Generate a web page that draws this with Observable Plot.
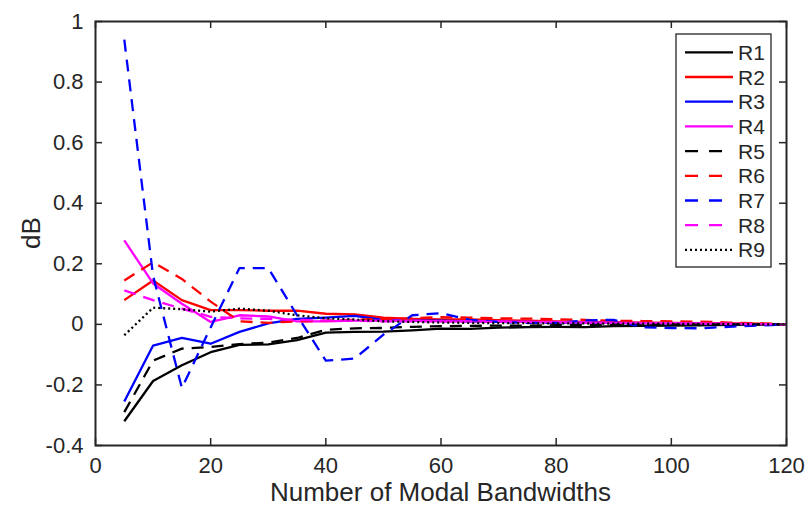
<!DOCTYPE html>
<html><head><meta charset="utf-8">
<script src="https://cdn.jsdelivr.net/npm/d3@7"></script>
<script src="https://cdn.jsdelivr.net/npm/@observablehq/plot@0.6"></script>
<style>
body{margin:0;background:#fff;}
#chart{position:relative;width:809px;height:508px;}
</style>
</head><body><div id="chart"></div>
<script>
const bandwidths = [5,10,15,20,25,30,35,40,45,50,55,60,65,70,75,80,85,90,95,100,105,110,115,120];
const R1 = [-0.32,-0.187,-0.135,-0.092,-0.068,-0.066,-0.052,-0.027,-0.025,-0.024,-0.02,-0.014,-0.015,-0.011,-0.009,-0.008,-0.009,-0.006,-0.005,-0.004,-0.003,-0.002,-0.001,0];
const R2 = [0.08,0.145,0.08,0.047,0.047,0.045,0.045,0.035,0.033,0.022,0.018,0.016,0.016,0.014,0.012,0.01,0.008,0.007,0.006,0.005,0.004,0.003,0.002,0];
const R3 = [-0.255,-0.07,-0.045,-0.064,-0.025,0.003,0.018,0.022,0.028,0.015,0.012,0.012,0.01,0.008,0.008,0.006,0.006,0.005,0.004,0.003,0.002,0.001,0.001,0];
const R4 = [0.277,0.135,0.068,0.008,0.03,0.026,0.01,0.01,0.012,0.012,0.012,0.01,0.01,0.01,0.008,0.008,0.006,0.006,0.005,0.004,0.003,0.002,0.001,0];
const R5 = [-0.29,-0.12,-0.08,-0.075,-0.065,-0.06,-0.045,-0.018,-0.013,-0.012,-0.008,-0.006,-0.005,-0.004,-0.004,-0.003,-0.003,-0.002,-0.002,-0.001,-0.001,0,0,0];
const R6 = [0.145,0.205,0.15,0.075,0.01,0.005,0.01,0.012,0.015,0.018,0.02,0.024,0.022,0.02,0.019,0.017,0.015,0.012,0.011,0.01,0.009,0.006,0.004,0];
const R7 = [0.94,0.16,-0.21,-0.01,0.186,0.186,0.03,-0.12,-0.113,-0.034,0.03,0.037,0.015,0.008,0.005,0.005,0.013,0.015,-0.01,-0.012,-0.013,-0.008,-0.004,0];
const R8 = [0.112,0.08,0.052,0.025,0.02,0.018,0.015,0.012,0.012,0.01,0.01,0.01,0.01,0.008,0.008,0.007,0.006,0.005,0.004,0.004,0.003,0.002,0.001,0];
const R9 = [-0.036,0.055,0.05,0.042,0.052,0.045,0.03,0.02,0.016,0.01,0.008,0.006,0.005,0.004,0.004,0.003,0.003,0.002,0.002,0.002,0.001,0.001,0,0];

const seriesNames = ["R1","R2","R3","R4","R5","R6","R7","R8","R9"];
const seriesColors = ["#000000","#ff0000","#0000ff","#ff00ff","#000000","#ff0000","#0000ff","#ff00ff","#000000"];
const seriesDash = [null,null,null,null,"12,8","12,8","12,8","12,8","2,3"];
const xTicks = [0,20,40,60,80,100,120];
const yTicks = [-0.4,-0.2,0,0.2,0.4,0.6,0.8,1];
const xLabel = "Number of Modal Bandwidths";
const yLabel = "dB";

const seriesValues = [R1,R2,R3,R4,R5,R6,R7,R8,R9];
const rows = seriesNames.flatMap((name, i) => bandwidths.map((x, j) => ({series: name, x, y: seriesValues[i][j]})));

const W = 809, H = 508, mL = 95, mR = 23, mT = 21, mB = 63;
const innerW = W - mL - mR, innerH = H - mT - mB, tickLen = 7;
const axisColor = "#262626";
const font = "'Liberation Sans', Arial, Helvetica, sans-serif";

const marks = [];
seriesNames.forEach((name, i) => {
  marks.push(Plot.line(rows.filter(r => r.series === name), {
    x: "x", y: "y", stroke: seriesColors[i], strokeWidth: 2.3,
    strokeDasharray: seriesDash[i] || undefined, strokeLinecap: "butt", strokeLinejoin: "round"
  }));
});
marks.push(Plot.tickX(xTicks, {x: d => d, stroke: axisColor, strokeWidth: 1.5, insetTop: innerH - tickLen}));
marks.push(Plot.tickX(xTicks, {x: d => d, stroke: axisColor, strokeWidth: 1.5, insetBottom: innerH - tickLen}));
marks.push(Plot.tickY(yTicks, {y: d => d, stroke: axisColor, strokeWidth: 1.5, insetRight: innerW - tickLen}));
marks.push(Plot.tickY(yTicks, {y: d => d, stroke: axisColor, strokeWidth: 1.5, insetLeft: innerW - tickLen}));
marks.push(Plot.frame({stroke: axisColor, strokeWidth: 2}));
marks.push(Plot.axisX({ticks: xTicks, tickSize: 0, tickPadding: 12, fontSize: 22, label: null, tickFormat: d => String(d), fill: axisColor}));
marks.push(Plot.axisY({ticks: yTicks, tickSize: 0, tickPadding: 12, fontSize: 22, label: null, tickFormat: d => String(d), fill: axisColor}));

const chart = Plot.plot({
  width: W, height: H,
  marginLeft: mL, marginRight: mR, marginTop: mT, marginBottom: mB,
  x: {domain: [0, 120]},
  y: {domain: [-0.4, 1]},
  style: {fontFamily: font, fontSize: "22px", background: "white", overflow: "visible"},
  marks
});

const svg = d3.select(chart);
svg.append("text").attr("x", mL + innerW / 2).attr("y", 501)
  .attr("text-anchor", "middle").attr("font-size", 26).attr("fill", axisColor).attr("font-family", font).text(xLabel);
svg.append("text").attr("transform", `translate(40,${mT + innerH / 2}) rotate(-90)`)
  .attr("text-anchor", "middle").attr("font-size", 26).attr("fill", axisColor).attr("font-family", font).text(yLabel);

const lg = svg.append("g");
lg.append("rect").attr("x", 676).attr("y", 34).attr("width", 95).attr("height", 233)
  .attr("fill", "white").attr("stroke", axisColor).attr("stroke-width", 1.3);
seriesNames.forEach((name, i) => {
  const yy = 52.3 + i * 24.7;
  lg.append("line").attr("x1", 685).attr("x2", 733).attr("y1", yy).attr("y2", yy)
    .attr("stroke", seriesColors[i]).attr("stroke-width", 2.3)
    .attr("stroke-dasharray", seriesDash[i] === "12,8" ? "13,11" : seriesDash[i]);
  lg.append("text").attr("x", 738).attr("y", yy).attr("dy", "0.36em").attr("font-size", 21)
    .attr("text-anchor", "start").attr("font-family", font).attr("fill", axisColor).text(name);
});

document.getElementById("chart").appendChild(chart);
</script>
</body></html>
